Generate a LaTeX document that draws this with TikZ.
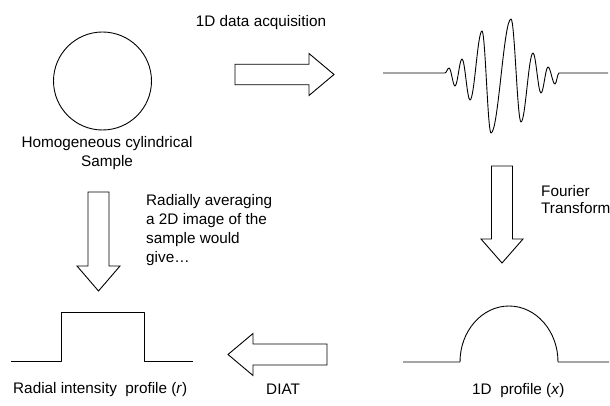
\documentclass[tikz,border=0pt]{standalone}
\usepackage{fontspec}
\setmainfont{Liberation Sans}
\begin{document}
\begin{tikzpicture}[x=1pt,y=-1pt,
  lbl/.style={font=\fontsize{15.3}{18}\selectfont, inner sep=0pt},
  curve/.style={line width=0.9pt, line join=round},
  blockarrow/.style={draw, line width=0.9pt, line join=miter}]
\useasboundingbox (0,0) rectangle (610,406);

% sample
\node[draw, curve, circle, minimum size=98pt, inner sep=0pt] (sample) at (102.5,81) {};
\node[lbl, anchor=base] (hom1) at (107,147.5) {Homogeneous cylindrical};
\node[lbl, anchor=base] (hom2) at (107,166.5) {Sample};

% 1D data acquisition arrow
\node[lbl, anchor=base] (acq) at (261,26.5) {1D data acquisition};
\draw[blockarrow] (235,64.25) -- (309,64.25) -- (309,53.5) -- (334,74.5) -- (309,95.5) -- (309,84.75) -- (235,84.75) -- cycle;

% wave
\coordinate (w0) at (383,73);
\coordinate (w1) at (445,73);
\coordinate (w2) at (559,73);
\coordinate (w3) at (608,73);
\draw[curve] (w0) -- (w1)
  .. controls (446.45,73) and (447.55,68) .. (449,68)
  .. controls (451.18,68) and (452.82,86) .. (455,86)
  .. controls (457.54,86) and (459.46,59) .. (462,59)
  .. controls (464.9,59) and (467.1,100) .. (470,100)
  .. controls (474.36,100) and (477.64,31) .. (482,31)
  .. controls (485.27,31) and (487.73,133) .. (491,133)
  .. controls (498.26,133) and (503.74,19) .. (511,19)
  .. controls (514.63,19) and (517.37,122) .. (521,122)
  .. controls (525.36,122) and (528.64,53) .. (533,53)
  .. controls (535.9,53) and (538.1,93) .. (541,93)
  .. controls (543.54,93) and (545.46,67) .. (548,67)
  .. controls (550.54,67) and (552.46,84) .. (555,84)
  .. controls (556.45,84) and (557.55,73) .. (w2) -- (w3);

% Fourier transform arrow
\draw[blockarrow] (491.5,166) -- (512.5,166) -- (512.5,239) -- (523,239) -- (502,263) -- (481,239) -- (491.5,239) -- cycle;
\node[lbl, anchor=base west] (ft1) at (541,196.5) {Fourier};
\node[lbl, anchor=base west] (ft2) at (541,213.5) {Transform};

% radial averaging arrow
\draw[blockarrow] (88,192) -- (109,192) -- (109,266) -- (120,266) -- (98.5,291) -- (77,266) -- (88,266) -- cycle;
\node[lbl, anchor=base west] (ra1) at (146,205.5) {Radially averaging};
\node[lbl, anchor=base west] (ra2) at (146,224.5) {a 2D image of the};
\node[lbl, anchor=base west] (ra3) at (146,243.5) {sample would};
\node[lbl, anchor=base west] (ra4) at (146,262.5) {give…};

% step profile
\draw[curve] (11,361) -- (61,361) -- (61,312) -- (144,312) -- (144,361) -- (193,361);
\node[lbl, anchor=base west] (rad) at (13,393.5) {Radial intensity\ \ profile (\textit{r})};

% DIAT arrow
\draw[blockarrow] (327,344) -- (253,344) -- (253,333.5) -- (228,354.5) -- (253,375.5) -- (253,365) -- (327,365) -- cycle;
\node[lbl, anchor=base west] (diat) at (266,394.5) {DIAT};

% 1D profile
\draw[curve] (403,362) -- (460,362) arc[start angle=180, end angle=0, x radius=49pt, y radius=56pt] -- (609,362);
\node[lbl, anchor=base west] (prof) at (472,394.5) {1D\ \ profile (\textit{x})};
\end{tikzpicture}
\end{document}
